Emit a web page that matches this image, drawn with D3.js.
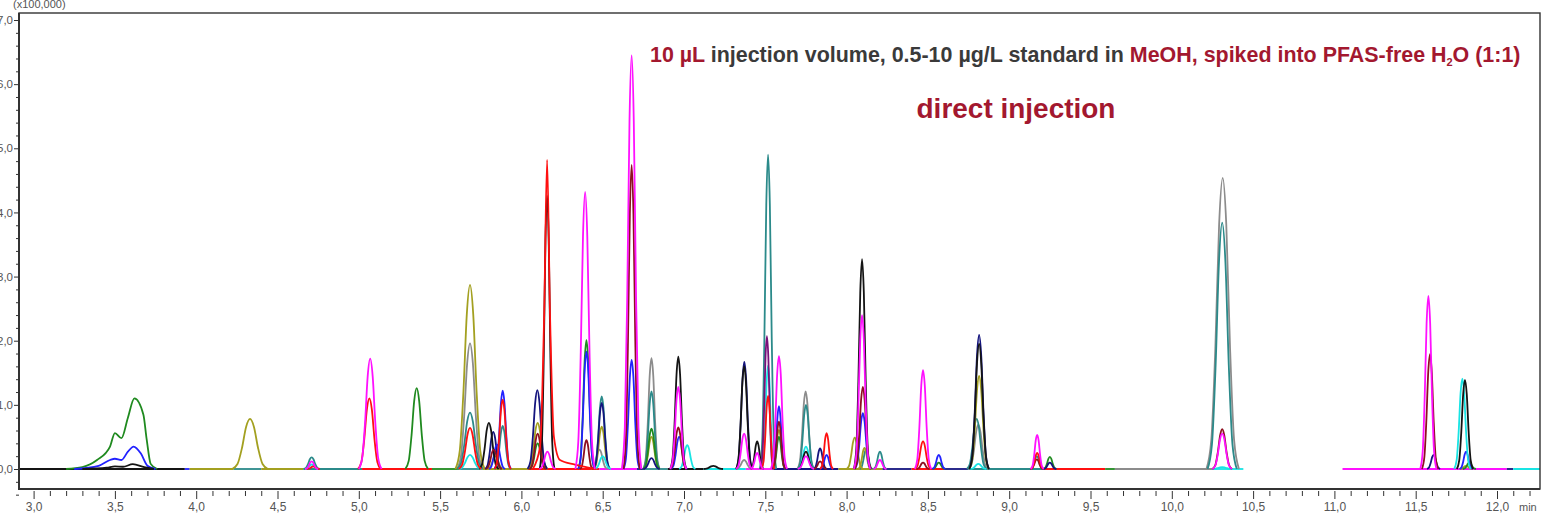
<!DOCTYPE html>
<meta charset="utf-8">
<style>
    body { margin: 0; background: #fff; }
    text { font-family: "Liberation Sans", Arial, sans-serif; }
    .tick text { fill: #555; }
    .tick line { stroke: #333; }
    .trace { fill: none; stroke-width: 1.8; stroke-linejoin: round; }
</style>
<svg width="1544" height="518"></svg>
<script src="https://cdn.jsdelivr.net/npm/d3@7"></script>
<script>

    // peaks per trace: [retention time (min), height (x100,000), half base width (min)]
    var green = [[5.356, 1.26, 0.07], [6.10, 0.40, 0.05], [6.40, 2.01, 0.05], [6.80, 0.63, 0.05], [7.584, 0.50, 0.04],
        [8.567, 0.10, 0.04], [9.25, 0.19, 0.04], [11.83, 0.10, 0.04]];
    var blue = [[5.85, 0.38, 0.05], [5.885, 1.22, 0.05], [6.40, 1.83, 0.05], [6.678, 1.70, 0.05], [6.97, 0.50, 0.05],
        [7.584, 0.98, 0.04], [7.877, 0.22, 0.04], [8.10, 0.87, 0.05], [8.567, 0.22, 0.04], [11.81, 0.27, 0.04]];
    var black = [[5.80, 0.72, 0.06], [6.158, 4.26, 0.045], [6.965, 1.75, 0.05], [7.18, 0.05, 0.06], [7.37, 1.60, 0.05],
        [7.45, 0.43, 0.04], [7.75, 0.27, 0.05], [8.095, 3.27, 0.05], [8.815, 1.95, 0.06], [11.803, 1.39, 0.05]];
    var olive = [[4.331, 0.78, 0.11], [5.684, 2.87, 0.09], [5.84, 0.20, 0.05], [6.10, 0.72, 0.06], [6.494, 0.66, 0.05],
        [6.80, 0.50, 0.05], [7.584, 0.61, 0.04], [8.05, 0.49, 0.05], [8.11, 0.33, 0.04], [8.815, 1.45, 0.06], [11.81, 0.05, 0.04]];
    var teal = [[4.71, 0.18, 0.05], [5.684, 0.88, 0.08], [5.885, 0.67, 0.05], [6.494, 1.13, 0.05], [6.80, 1.21, 0.05],
        [7.517, 4.90, 0.05], [7.75, 1.00, 0.05], [8.12, 0.30, 0.04], [8.205, 0.27, 0.04], [8.80, 0.78, 0.06],
        [9.17, 0.20, 0.04], [10.31, 3.84, 0.09]];
    var magenta = [[4.71, 0.12, 0.04], [5.07, 1.72, 0.07], [6.16, 0.27, 0.05], [6.392, 4.32, 0.06], [6.678, 6.45, 0.06],
        [6.965, 1.28, 0.05], [7.37, 0.55, 0.05], [7.45, 0.25, 0.04], [7.584, 1.76, 0.05], [7.75, 0.20, 0.05],
        [8.095, 2.40, 0.05], [8.205, 0.14, 0.04], [8.47, 1.54, 0.05], [9.172, 0.53, 0.04], [10.31, 0.55, 0.06],
        [11.578, 2.70, 0.05]];
    var red = [[4.72, 0.04, 0.04], [5.065, 1.10, 0.07], [5.684, 0.64, 0.07], [5.885, 1.08, 0.05], [7.517, 1.14, 0.04],
        [7.877, 0.56, 0.04], [8.47, 0.43, 0.05], [9.172, 0.25, 0.04]];
    var darkRed = [[5.83, 0.30, 0.05], [6.10, 0.55, 0.05], [6.40, 0.45, 0.04], [6.678, 4.74, 0.05], [6.965, 0.65, 0.05],
        [7.584, 0.74, 0.04], [7.837, 0.12, 0.04], [8.10, 1.28, 0.05], [8.47, 0.10, 0.04], [9.17, 0.15, 0.04],
        [10.31, 0.62, 0.06], [11.588, 1.79, 0.05]];
    var navy = [[5.827, 0.58, 0.05], [6.098, 1.23, 0.06], [6.494, 1.03, 0.05], [6.80, 0.17, 0.05], [7.371, 1.67, 0.05],
        [7.837, 0.32, 0.04], [8.815, 2.09, 0.06], [9.25, 0.10, 0.04], [11.61, 0.22, 0.04]];
    var gray = [[5.684, 1.96, 0.08], [6.48, 0.30, 0.05], [6.80, 1.73, 0.05], [7.37, 0.14, 0.05], [7.748, 1.21, 0.05],
        [8.81, 0.69, 0.06], [10.313, 4.54, 0.10]];
    var cyan = [[4.71, 0.07, 0.04], [5.684, 0.22, 0.07], [6.50, 0.20, 0.05], [7.02, 0.37, 0.05], [7.517, 1.61, 0.04],
        [7.75, 0.35, 0.05], [8.81, 0.08, 0.05], [10.31, 0.03, 0.06], [11.787, 1.41, 0.05]];
    var purple = [[7.51, 2.07, 0.04]];

    // traces read point by point: [time, value]
    var greenEarly = [[3.20, 0], [3.30, 0.03], [3.39, 0.14], [3.47, 0.35], [3.50, 0.56], [3.54, 0.48], [3.58, 0.80],
        [3.62, 1.10], [3.675, 0.85], [3.695, 0.47], [3.72, 0.08], [3.76, 0]];
    var blueEarly = [[3.25, 0], [3.40, 0.05], [3.47, 0.14], [3.50, 0.16], [3.54, 0.14], [3.58, 0.27], [3.615, 0.35],
        [3.66, 0.24], [3.70, 0.05], [3.75, 0]];
    var blackEarly = [[3.30, 0], [3.45, 0.02], [3.50, 0.04], [3.55, 0.035], [3.61, 0.075], [3.68, 0.03], [3.74, 0]];
    var redMain = [[6.07, 0], [6.115, 0.35], [6.14, 2.40], [6.158, 4.82], [6.176, 2.40], [6.20, 0.50], [6.237, 0.14],
        [6.33, 0.07], [6.46, 0]];

    // baseline windows: [start, end, trace]
    var baseline = [[2.90, 3.93, "black"], [3.93, 3.96, "blue"], [3.96, 4.23, "olive"], [4.23, 4.40, "teal"],
        [4.40, 4.66, "olive"], [4.66, 5.02, "teal"], [5.02, 5.45, "red"], [5.45, 5.62, "green"], [5.62, 5.76, "teal"],
        [5.76, 6.04, "olive"], [6.04, 6.48, "red"], [6.48, 6.71, "magenta"], [6.71, 6.76, "navy"], [6.76, 6.90, "teal"],
        [6.90, 7.12, "black"], [7.12, 7.38, "cyan"], [7.38, 7.55, "magenta"], [7.55, 7.95, "navy"], [7.95, 8.22, "olive"],
        [8.22, 8.40, "navy"], [8.40, 8.60, "red"], [8.60, 8.75, "navy"], [8.75, 9.22, "teal"], [9.22, 9.59, "red"],
        [9.59, 9.65, "green"], [9.65, 10.26, "gray"], [10.26, 10.44, "cyan"], [11.05, 12.06, "magenta"],
        [12.06, 12.10, "navy"], [12.10, 12.30, "cyan"]];

    // peak outline (fraction of half width, fraction of height)
    var shapeX = [-1, -0.7, -0.45, -0.22, 0, 0.22, 0.45, 0.7, 1];
    var shapeY = [0, 0.1, 0.42, 0.84, 1, 0.84, 0.42, 0.1, 0];

    var xTicks = [3.0, 3.5, 4.0, 4.5, 5.0, 5.5, 6.0, 6.5, 7.0, 7.5, 8.0, 8.5, 9.0, 9.5, 10.0, 10.5, 11.0, 11.5, 12.0];
    var yTicks = [0, 1, 2, 3, 4, 5, 6, 7];

    var colors = {
        green: "#1f8a1f", blue: "#2222ff", black: "#141414", olive: "#a3a020", teal: "#2b8a8a",
        magenta: "#ff10ff", red: "#ff1010", darkRed: "#8e1020", navy: "#14147e", gray: "#8c8c8c",
        cyan: "#18e4e4", purple: "#7a107a"
    };

    var series = [
        ["gray", gray], ["teal", teal], ["olive", olive], ["green", green], ["navy", navy], ["blue", blue],
        ["cyan", cyan], ["black", black], ["darkRed", darkRed], ["purple", purple], ["red", red], ["magenta", magenta]
    ];

    var svg = d3.select("svg"),
        pLeft = 19, pRight = 1540, pTop = 13, pBottom = 489;

    var x = d3.scaleLinear().domain([3, 12]).range([33.6, 1497]);
    var y = d3.scaleLinear().domain([0, 7]).range([469, 20]);

    var fmt = function(d) { return d.toFixed(1).replace(".", ","); };

    svg.append("clipPath").attr("id", "plot")
        .append("rect").attr("x", pLeft).attr("y", pTop).attr("width", pRight - pLeft).attr("height", pBottom - pTop);

    var line = d3.line()
        .x(function(d) { return x(d[0]); })
        .y(function(d) { return y(d[1]); })
        .curve(d3.curveMonotoneX);

    var g = svg.append("g").attr("clip-path", "url(#plot)");

    // baseline windows
    g.selectAll(".base")
        .data(baseline)
        .enter().append("path")
        .attr("class", "trace")
        .attr("stroke", function(d) { return colors[d[2]]; })
        .attr("d", function(d) { return line([[d[0], 0], [d[1], 0]]); });

    // early cluster traces
    [["green", greenEarly], ["blue", blueEarly], ["black", blackEarly]].forEach(function(s) {
        g.append("path").attr("class", "trace").attr("stroke", colors[s[0]]).attr("d", line(s[1]));
    });

    series.forEach(function(s) {
        g.selectAll(null)
            .data(s[1])
            .enter().append("path")
            .attr("class", "trace")
            .attr("stroke", colors[s[0]])
            .attr("d", function(p) {
                return line(shapeX.map(function(f, i) { return [p[0] + f * p[2], shapeY[i] * p[1]]; }));
            });
        if (s[0] === "red") {
            g.append("path").attr("class", "trace").attr("stroke", colors.red).attr("d", line(redMain));
        }
    });

    // frame
    svg.append("rect")
        .attr("x", pLeft).attr("y", pTop).attr("width", pRight - pLeft).attr("height", pBottom - pTop)
        .attr("fill", "none").attr("stroke", "#333").attr("stroke-width", 1.4);
    svg.append("path").attr("d", "M" + pLeft + "," + pTop + "V" + pBottom + "H" + pRight)
        .attr("fill", "none").attr("stroke", "#333").attr("stroke-width", 2);

    // y axis
    var yMinor = d3.range(-2, 36).map(function(i) { return i / 5; }).filter(function(v) { return Math.abs(v - Math.round(v)) > 1e-6; });
    svg.append("g").attr("transform", "translate(" + pLeft + ",0)")
        .call(d3.axisLeft(y).tickValues(yMinor).tickSize(3).tickFormat(""))
        .call(function(a) { a.select(".domain").remove(); });
    svg.append("g").attr("transform", "translate(" + pLeft + ",0)")
        .call(d3.axisLeft(y).tickValues(yTicks).tickSize(5).tickPadding(1).tickFormat(fmt))
        .call(function(a) {
            a.select(".domain").remove();
            a.attr("font-size", 11.5).attr("font-family", null);
        });

    // x axis
    var xMinor = d3.range(30, 123).map(function(i) { return i / 10; }).filter(function(v) { return Math.abs(v * 2 - Math.round(v * 2)) > 1e-6; });
    svg.append("g").attr("transform", "translate(0," + (pBottom + 2) + ")")
        .call(d3.axisBottom(x).tickValues(xMinor).tickSize(5).tickFormat(""))
        .call(function(a) { a.select(".domain").remove(); });
    svg.append("g").attr("transform", "translate(0," + (pBottom + 2) + ")")
        .call(d3.axisBottom(x).tickValues(xTicks).tickSize(8).tickPadding(3).tickFormat(fmt))
        .call(function(a) {
            a.select(".domain").remove();
            a.attr("font-size", 12).attr("font-family", null);
        });

    svg.append("text").attr("x", 1519).attr("y", 511).attr("font-size", 11).attr("fill", "#555").text("min");
    svg.append("text").attr("x", 13).attr("y", 8).attr("font-size", 11).attr("fill", "#555").text("(x100,000)");

    // annotation
    var red1 = "#a3182f", dark = "#3a3a3a";
    var title = svg.append("text").attr("x", 650).attr("y", 62).attr("font-weight", "bold").attr("font-size", 18);
    title.append("tspan").attr("fill", red1).text("10 µL");
    title.append("tspan").attr("fill", dark).text(" injection volume, 0.5-10 µg/L standard in ");
    title.append("tspan").attr("fill", red1).text("MeOH, spiked into PFAS-free H");
    title.append("tspan").attr("fill", red1).attr("font-size", 11).attr("dy", 4).text("2");
    title.append("tspan").attr("fill", red1).attr("dy", -4).text("O (1:1)");
    var tw = title.node().getComputedTextLength();
    title.attr("font-size", 18 * 872 / tw);

    var sub = svg.append("text").attr("x", 1016).attr("y", 118).attr("text-anchor", "middle")
        .attr("font-weight", "bold").attr("font-size", 24).attr("fill", red1).text("direct injection");
    var sw = sub.node().getComputedTextLength();
    sub.attr("font-size", 24 * 199 / sw);

</script>
